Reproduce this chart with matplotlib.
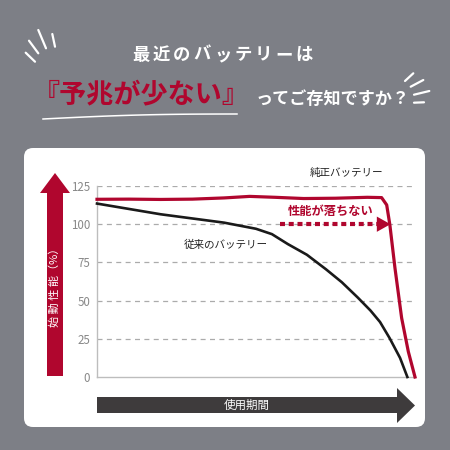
import numpy as np
import matplotlib
matplotlib.use("Agg")
import matplotlib.pyplot as plt
from matplotlib.patches import FancyBboxPatch, Polygon

plt.rcParams['font.family'] = ['Noto Sans CJK JP', 'DejaVu Sans']

# chart data (usage period 0-100, starting performance %)
period_old = [0, 20, 40, 50, 55, 60, 66, 72, 77, 82, 86, 89, 92, 95.3, 97.6]
perf_old = [113.5, 106.5, 101, 97, 93.5, 87, 80, 70.5, 62, 52, 43.5, 36, 25.5, 12.5, 0]
period_genuine = [0, 10, 20, 30, 40, 48, 56, 65, 75, 85, 89.5, 91.1, 92.1, 93.7, 95.8, 97.9, 100]
perf_genuine = [116.3, 116.4, 116.2, 116.4, 117.2, 118.2, 117.6, 116.8, 117, 117.6, 117.4,
                112.6, 99.5, 71.3, 38.6, 16.6, 0]
y_ticks = [0, 25, 50, 75, 100, 125]

RED = "#b0062e"
BG = "#7d7f86"
DARK = "#3e3b3c"

W = H = 450
fig = plt.figure(figsize=(4.5, 4.5), dpi=100, facecolor=BG)

# background layer in pixel coordinates
bg = fig.add_axes([0, 0, 1, 1])
bg.set_xlim(0, W); bg.set_ylim(H, 0); bg.axis("off")
bg.set_facecolor(BG)

def spaced(x0, y, s, step, **kw):
    # letter-spaced text, one glyph per slot
    for i, ch in enumerate(s):
        bg.text(x0 + step * (i + 0.5), y, ch, ha="center", va="center", **kw)

# title
spaced(131, 55, "最近のバッテリーは", 20.4, color="white", fontsize=12.5, fontweight="bold")
bg.text(141, 94, "『予兆が少ない』", color=RED, fontsize=19.5, fontweight="bold", ha="center", va="center")
bg.text(333, 99, "ってご存知ですか？", color="white", fontsize=12.3, fontweight="bold", ha="center", va="center")
t = np.linspace(0, 1, 30)
bg.plot(43 + 194 * t, 119 - 5 * t - 1.5 * np.sin(np.pi * t), color="white", lw=1.1)

# decorative strokes
for (xa, ya), (xb, yb) in [((25.7, 52.7), (35, 61.7)), ((29, 40.7), (38.3, 53.3)),
                           ((38.3, 30), (46, 48.3)), ((52.3, 34), (55, 46.7)),
                           ((405, 81), (413.3, 73.3)), ((410.7, 86.7), (423.3, 80)),
                           ((414, 94.7), (429.3, 91)), ((414, 102.7), (424, 102.3))]:
    bg.plot([xa, xb], [ya, yb], color="white", lw=1.6, solid_capstyle="round")

# white card
bg.add_patch(FancyBboxPatch((24, 148), 401, 279, boxstyle="round,pad=0,rounding_size=9",
                            fc="white", ec="none"))

# y-axis arrow
bg.add_patch(Polygon([(47, 376), (63, 376), (63, 193), (70, 193), (55, 173), (40, 193), (47, 193)],
                     closed=True, fc=RED, ec="none"))
bg.text(55, 285, "始 動 性 能（%）", color="white", fontsize=8, rotation=90,
        ha="center", va="center")

# x-axis arrow
bg.add_patch(Polygon([(97, 397), (397, 397), (397, 388), (415, 405.5), (397, 423), (397, 413), (97, 413)],
                     closed=True, fc=DARK, ec="none"))
bg.text(247, 405, "使用期間", color="white", fontsize=8.3, ha="center", va="center")

# chart axes
x0, x1, y0, y1 = 97, 415, 377, 186
ax = fig.add_axes([x0 / W, (H - y0) / H, (x1 - x0) / W, (y0 - y1) / H])
ax.set_facecolor("none")
ax.set_xlim(0, 100); ax.set_ylim(0, 125)
ax.set_yticks(y_ticks)
ax.set_xticks([])
ax.tick_params(axis="y", length=0, pad=5, labelsize=8.3, labelcolor="#888888")
for s in ["top", "right"]:
    ax.spines[s].set_visible(False)
for s in ["left", "bottom"]:
    ax.spines[s].set_color("#bdbdbd")
    ax.spines[s].set_linewidth(1.0)
for v in y_ticks[1:]:
    ax.plot([0, 99.4], [v, v], color="#ababab", lw=0.9, dashes=(4, 3.5), zorder=1)

ax.plot(period_genuine, perf_genuine, color=RED, lw=2.3, clip_on=False, zorder=3)
ax.plot(period_old, perf_old, color="#1a1a1a", lw=1.9, clip_on=False, zorder=3)

# annotations
ax.text(78.5, 133.5, "純正バッテリー", fontsize=7.6, color="#222222", ha="center", va="center")
ax.text(73.4, 108.5, "性能が落ちない", fontsize=8.8, color=RED, fontweight="bold", ha="center", va="center")
ax.plot([57.5, 88], [100, 100], color=RED, lw=3, dashes=(1.2, 0.9), zorder=4)
ax.add_patch(Polygon([(88, 105), (92.3, 100), (88, 95)], closed=True, fc=RED, ec="none",
                     clip_on=False, zorder=4))
ax.text(40.5, 86.7, "従来のバッテリー", fontsize=7.6, color="#222222", ha="center", va="center")

fig.savefig("out.png", dpi=100, facecolor=BG)
